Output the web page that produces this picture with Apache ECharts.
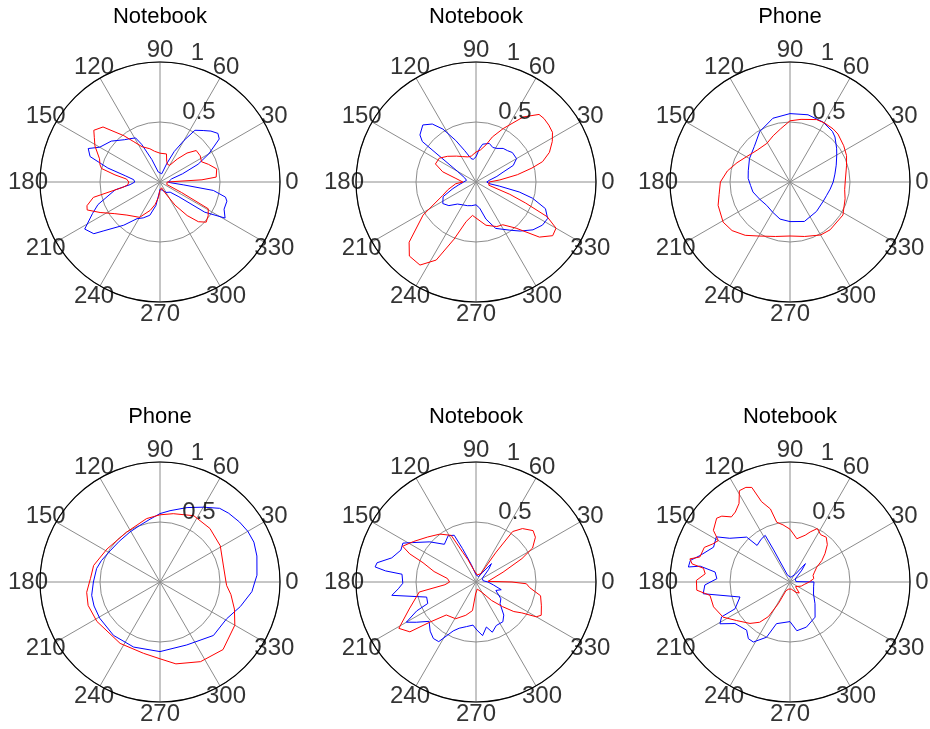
<!DOCTYPE html>
<html><head><meta charset="utf-8">
<script src="https://cdn.jsdelivr.net/npm/echarts@6/dist/echarts.min.js"></script>
<style>html,body{margin:0;padding:0;background:#fff}#c{width:930px;height:729px}</style>
</head><body><div id="c"></div>
<script>
// ---- data (angle in degrees, radius) ----
const titles = ['Notebook', 'Notebook', 'Phone', 'Phone', 'Notebook', 'Notebook'];
const angleTicks = [0, 30, 60, 90, 120, 150, 180, 210, 240, 270, 300, 330];
const angleTickLabels = ['0', '30', '60', '90', '120', '150', '180', '210', '240', '270', '300', '330'];
const radiusTicks = [0.5, 1];
const radiusTickLabels = ['0.5', '1'];

const p1Blue = [[0,0.07],[8,0.08],[15,0.1],[20,0.2],[25,0.35],[30,0.47],[36,0.61],[40,0.63],[45,0.6],[50,0.56],[56,0.52],[60,0.4],[65,0.28],[70,0.16],[78,0.07],[90,0.06],[100,0.085],[110,0.2],[116,0.35],[119,0.42],[125,0.44],[130,0.46],[140,0.53],[150,0.58],[155,0.66],[160,0.62],[165,0.45],[170,0.29],[175,0.22],[180,0.21],[185,0.25],[190,0.38],[200,0.55],[205,0.62],[212,0.74],[218,0.7],[221,0.62],[230,0.47],[238,0.36],[245,0.33],[253,0.29],[260,0.2],[265,0.1],[270,0.06],[285,0.07],[300,0.1],[315,0.12],[322,0.2],[326,0.45],[331,0.62],[337,0.58],[344,0.58],[347,0.56],[351,0.45],[353,0.2],[356,0.09]];
const p1Red = [[0,0.06],[3,0.35],[5,0.47],[13,0.485],[20,0.43],[26,0.385],[33,0.4],[41,0.4],[47,0.33],[53,0.24],[60,0.16],[67,0.16],[72,0.18],[77,0.24],[90,0.24],[100,0.26],[107,0.29],[117,0.33],[123,0.4],[128,0.49],[136,0.66],[142,0.7],[146,0.66],[151,0.62],[159,0.54],[164,0.52],[167,0.5],[171,0.38],[175,0.28],[180,0.26],[185,0.27],[188,0.31],[193,0.57],[198,0.64],[201,0.65],[207,0.56],[215,0.46],[225,0.39],[240,0.34],[251,0.25],[258,0.19],[264,0.13],[270,0.07],[285,0.05],[295,0.1],[303,0.23],[309,0.36],[314,0.46],[319,0.51],[325,0.49],[331,0.46],[334,0.2],[340,0.06],[350,0.05]];
const p2Blue = [[0,0.09],[7,0.11],[15,0.18],[20,0.24],[24,0.34],[30,0.39],[39,0.39],[45,0.37],[51,0.36],[58,0.33],[64,0.32],[71,0.34],[80,0.32],[84,0.28],[90,0.21],[97,0.19],[102,0.2],[110,0.28],[116,0.385],[122,0.52],[127,0.605],[133,0.65],[140,0.61],[143,0.56],[145,0.35],[150,0.18],[160,0.1],[170,0.08],[180,0.08],[190,0.15],[196,0.2],[204,0.3],[213,0.33],[221,0.3],[230,0.24],[240,0.22],[250,0.21],[260,0.2],[270,0.19],[278,0.22],[285,0.32],[293,0.42],[305,0.49],[312,0.55],[320,0.62],[327,0.66],[333,0.67],[339,0.62],[344,0.49],[347,0.37],[350,0.2],[353,0.11]];
const p2Red = [[0,0.11],[5,0.2],[10,0.35],[14,0.48],[17,0.58],[22,0.66],[28,0.72],[33,0.76],[38,0.77],[43,0.775],[47,0.77],[54,0.67],[63,0.5],[70,0.4],[75,0.32],[82,0.27],[90,0.25],[100,0.22],[108,0.22],[118,0.24],[127,0.27],[138,0.32],[147,0.365],[156,0.37],[163,0.29],[170,0.17],[180,0.11],[185,0.17],[195,0.24],[202,0.3],[212,0.52],[222,0.75],[228,0.83],[236,0.835],[243,0.73],[249,0.51],[256,0.34],[264,0.28],[270,0.3],[283,0.37],[295,0.41],[302,0.42],[311,0.51],[319,0.7],[325,0.78],[330,0.77],[334,0.66],[337,0.45],[340,0.3],[346,0.11],[352,0.1]];
const p3Blue = [[0,0.36],[10,0.38],[20,0.41],[30,0.45],[36,0.48],[45,0.53],[50,0.55],[61,0.57],[75,0.58],[90,0.57],[105,0.55],[121,0.49],[135,0.42],[150,0.39],[165,0.36],[175,0.35],[185,0.33],[195,0.32],[210,0.29],[225,0.275],[240,0.29],[255,0.32],[270,0.33],[290,0.35],[312,0.33],[330,0.32],[340,0.325],[350,0.34]];
const p3Red = [[0,0.46],[16,0.49],[25,0.52],[34,0.54],[45,0.565],[51,0.57],[60,0.57],[67,0.565],[80,0.53],[90,0.51],[100,0.45],[110,0.41],[121,0.375],[135,0.38],[150,0.42],[160,0.47],[170,0.53],[180,0.58],[190,0.6],[198,0.63],[211,0.65],[220,0.63],[230,0.58],[240,0.52],[255,0.47],[270,0.45],[285,0.47],[300,0.51],[310,0.52],[328,0.52],[343,0.48],[352,0.46]];
const p4Blue = [[0,0.79],[4,0.81],[15,0.836],[23,0.85],[30,0.845],[37,0.83],[45,0.81],[51,0.79],[60,0.72],[70,0.66],[82,0.6],[90,0.57],[99,0.53],[110,0.5],[121,0.486],[135,0.48],[148,0.49],[160,0.52],[168,0.54],[180,0.555],[191,0.58],[200,0.585],[211,0.586],[229,0.59],[248,0.585],[270,0.58],[293,0.57],[315,0.63],[331,0.634],[343,0.7],[354,0.77]];
const p4Red = [[0,0.55],[15,0.546],[31,0.586],[47,0.61],[63,0.62],[79,0.58],[90,0.56],[102,0.54],[124,0.5],[148,0.52],[166,0.57],[177,0.58],[188,0.617],[198,0.63],[212,0.62],[237,0.61],[257,0.61],[270,0.64],[281,0.695],[297,0.745],[313,0.77],[330,0.72],[340,0.66],[350,0.6],[357,0.556]];
const p5Blue = [[0,0.1],[10,0.06],[30,0.06],[45,0.15],[50,0.2],[55,0.1],[65,0.05],[90,0.06],[105,0.15],[112,0.3],[115,0.43],[121,0.45],[130,0.41],[139,0.51],[148,0.62],[152,0.69],[157,0.68],[164,0.73],[169,0.84],[171.5,0.85],[173,0.76],[174,0.62],[181,0.61],[185,0.65],[189,0.71],[197,0.43],[204,0.44],[206,0.55],[210,0.67],[214,0.6],[220,0.51],[227,0.56],[233,0.59],[238,0.586],[245,0.45],[250,0.41],[258,0.38],[266,0.36],[271,0.4],[277,0.45],[283,0.385],[288,0.44],[295,0.4],[304,0.4],[310,0.36],[318,0.27],[326,0.25],[337,0.18],[343,0.22],[350,0.15]];
const p5Red = [[0,0.3],[3,0.1],[12,0.1],[20,0.24],[27,0.43],[31,0.55],[37,0.62],[42,0.64],[49,0.59],[54,0.52],[56,0.3],[60,0.08],[80,0.06],[100,0.1],[110,0.2],[114,0.27],[118,0.44],[127,0.5],[137,0.55],[147,0.62],[154,0.68],[157,0.6],[160,0.47],[166,0.36],[173,0.24],[180,0.22],[185,0.26],[190,0.48],[202,0.6],[211,0.75],[217,0.69],[221,0.51],[228,0.37],[241,0.35],[253,0.29],[263,0.24],[268,0.1],[280,0.06],[300,0.1],[310,0.2],[317,0.3],[322,0.4],[326,0.46],[330,0.58],[333,0.61],[340,0.58],[348,0.55],[354,0.45],[358,0.42]];
const p6Blue = [[0,0.2],[4,0.05],[30,0.05],[45,0.14],[50,0.2],[55,0.08],[80,0.04],[110,0.06],[117,0.3],[118,0.44],[124,0.43],[132,0.41],[134,0.52],[144,0.62],[148.5,0.72],[155.5,0.7],[163.5,0.78],[167.8,0.85],[171.6,0.856],[170,0.76],[172.4,0.63],[177.4,0.61],[182,0.71],[187.7,0.73],[196.7,0.435],[206,0.51],[207,0.64],[210.8,0.68],[217,0.575],[228,0.54],[233.7,0.586],[238.6,0.586],[247,0.5],[252,0.365],[270,0.33],[278,0.41],[290,0.4],[305.5,0.36],[319,0.276],[333,0.22],[350,0.2]];
const p6Red = [[0,0.16],[8,0.2],[16,0.2],[22,0.22],[29,0.255],[34,0.32],[39,0.375],[45,0.44],[51,0.48],[57,0.47],[63,0.5],[68,0.45],[72,0.41],[81,0.365],[90,0.44],[97,0.48],[102.5,0.51],[105,0.63],[109.5,0.71],[112,0.85],[115,0.87],[119,0.87],[123,0.78],[128,0.74],[132,0.73],[136,0.79],[139,0.81],[146,0.77],[150,0.69],[154,0.72],[158,0.77],[164.5,0.78],[167,0.856],[169.5,0.83],[171,0.73],[174.5,0.71],[179,0.78],[185,0.78],[189.5,0.676],[198,0.67],[207.7,0.63],[215.7,0.55],[226,0.48],[233,0.42],[238,0.34],[241.7,0.205],[245,0.08],[260,0.06],[280,0.06],[300,0.1],[310,0.12],[320,0.06],[340,0.1],[350,0.12]];

const blueSeries = [p1Blue, p2Blue, p3Blue, p4Blue, p5Blue, p6Blue];
const redSeries = [p1Red, p2Red, p3Red, p4Red, p5Red, p6Red];

// ---- layout ----
const centers = [[160, 182], [476, 182], [790, 182], [160, 582], [476, 582], [790, 582]];
const R = 120;
const FONT = 'Liberation Sans, Arial, sans-serif';
const FS = 24;

const toPolar = arr => { const d = arr.map(p => [p[1], p[0]]); d.push(d[0]); return d; };

const labelBase = { show: true, color: '#000', fontSize: FS, fontFamily: FONT,
  textBorderWidth: 0, textBorderColor: 'transparent', textShadowBlur: 0 };

const polar = [], angleAxis = [], radiusAxis = [], series = [], graphic = [];
centers.forEach((c, i) => {
  polar.push({ center: c, radius: R });
  angleAxis.push({
    polarIndex: i, type: 'value', min: 0, max: 360, interval: 30,
    startAngle: 0, clockwise: false, z: 2,
    axisLine: { show: true, lineStyle: { color: '#000', width: 1.2 } },
    axisTick: { show: false }, axisLabel: { show: false },
    splitLine: { show: true, lineStyle: { color: '#8c8c8c', width: 1 } }
  });
  radiusAxis.push({
    polarIndex: i, type: 'value', min: 0, max: 1, interval: 0.5, z: 1,
    axisLine: { show: false }, axisTick: { show: false }, axisLabel: { show: false },
    splitLine: { show: true, lineStyle: { color: '#8c8c8c', width: 1 } }
  });
  series.push({
    type: 'line', coordinateSystem: 'polar', polarIndex: i, z: 5,
    data: toPolar(blueSeries[i]), showSymbol: false, smooth: false, silent: true,
    lineStyle: { color: '#0000ff', width: 1 }, clip: false
  });
  series.push({
    type: 'line', coordinateSystem: 'polar', polarIndex: i, z: 6,
    data: toPolar(redSeries[i]), showSymbol: false, smooth: false, silent: true,
    lineStyle: { color: '#ff0000', width: 1 }, clip: false
  });
  // angle tick labels at 1.1 * rmax, centered (MATLAB polar style)
  series.push({
    type: 'scatter', coordinateSystem: 'polar', polarIndex: i, z: 8,
    symbolSize: 0, silent: true, clip: false, itemStyle: { color: '#000' },
    data: angleTicks.map(a => [1.1, a]),
    label: Object.assign({}, labelBase, { position: [0, 0], align: 'center', verticalAlign: 'middle',
      formatter: p => angleTickLabels[p.dataIndex] })
  });
  // radius tick labels along 82 degrees
  series.push({
    type: 'scatter', coordinateSystem: 'polar', polarIndex: i, z: 8,
    symbolSize: 0, silent: true, clip: false, itemStyle: { color: '#000' },
    data: radiusTicks.map(r => [r, 82]),
    label: Object.assign({}, labelBase, { position: [14, 2], align: 'left', verticalAlign: 'bottom',
      formatter: p => radiusTickLabels[p.dataIndex] })
  });
  graphic.push({
    type: 'text', x: c[0], y: c[1] - 165, z: 10,
    style: { text: titles[i], align: 'center', verticalAlign: 'middle',
      fill: '#000', fontSize: 22, fontFamily: FONT }
  });
});

const chart = echarts.init(document.getElementById('c'), null, { renderer: 'canvas' });
chart.setOption({
  animation: false,
  backgroundColor: '#fff',
  polar, angleAxis, radiusAxis, series, graphic
});
</script>
</body></html>
